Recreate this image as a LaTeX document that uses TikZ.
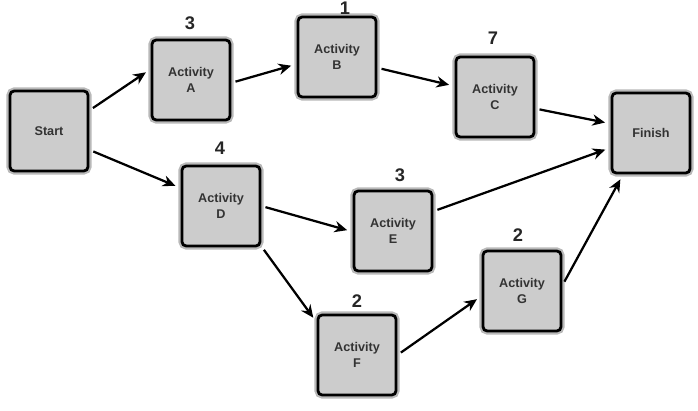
\documentclass[tikz,border=0pt]{standalone}
\usepackage{fontspec}
\setmainfont{Liberation Sans}
\usetikzlibrary{arrows.meta,positioning}
\tikzset{box/.style={draw=black,fill=gray!40,line width=2pt,rounded corners=3pt,align=center,minimum width=1.95cm,minimum height=2cm,inner sep=2pt,font=\fontsize{9}{11}\selectfont\bfseries,text=black!80,preaction={draw=gray!55,line width=5pt}},
num/.style={font=\fontsize{13}{15}\selectfont\bfseries,text=black!85},
arr/.style={-{Stealth[length=9pt,width=8pt]},line width=1.6pt,shorten <=3pt,shorten >=4pt}}
\begin{document}
\begin{tikzpicture}[x=0.025cm,y=-0.025cm]
\useasboundingbox(0,0)rectangle(698,411);
\node[box](start)at(49,131){Start};
\node[box](actA)at(191,80){Activity\\A};
\node[box](actB)at(337,57){Activity\\B};
\node[box](actC)at(495,97){Activity\\C};
\node[box](finish)at(651,133){Finish};
\node[box](actD)at(221,206){Activity\\D};
\node[box](actE)at(393,231){Activity\\E};
\node[box](actF)at(357,355){Activity\\F};
\node[box](actG)at(522,291){Activity\\G};
\node[num](nA)at(190,23){3};
\node[num](nB)at(345,8){1};
\node[num](nC)at(493,38){7};
\node[num](nD)at(220,148){4};
\node[num](nE)at(400,175){3};
\node[num](nF)at(357,301){2};
\node[num](nG)at(518,235){2};
\foreach\a/\b in{start.27/actA.165,actA.-4/actB.190,actB.-15/actC.165,actC.-16/finish.167,start.-25/actD.156,actD.0/actE.181,actE.26/finish.200,actD.-45/actF.141,actF.0/actG.187,actG.8/finish.236}\draw[arr](\a)--(\b);
\end{tikzpicture}
\end{document}
